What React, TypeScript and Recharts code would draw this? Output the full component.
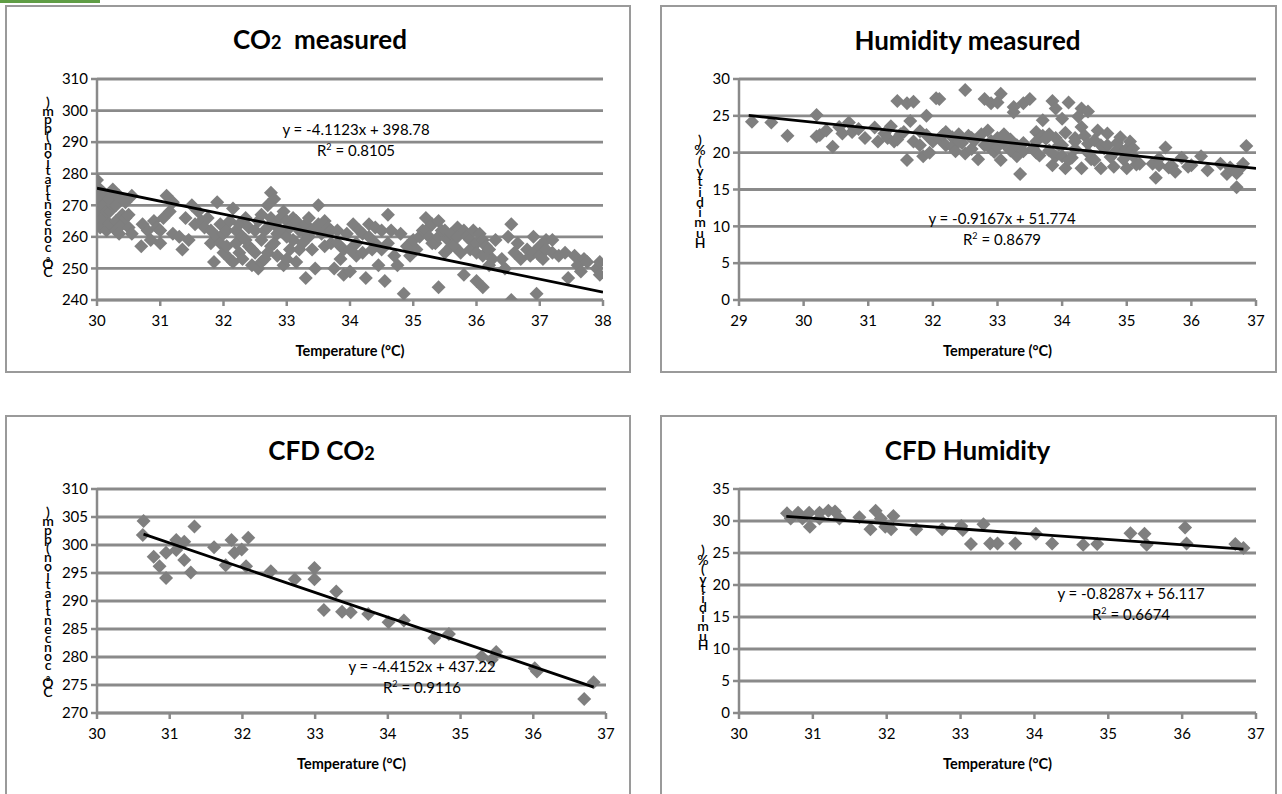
import { CartesianGrid, Scatter, ScatterChart, XAxis, YAxis } from "recharts";

// ---- data ----
const co2MeasuredPoints = [
  [30.0, 278], [30.02, 272], [30.0, 268], [30.0, 264], [30.05, 275], [30.05, 263], [30.1, 270],
  [30.1, 266], [30.1, 274], [30.15, 262], [30.15, 268], [30.2, 272], [30.2, 268], [30.2, 264],
  [30.25, 275], [30.25, 270], [30.3, 265], [30.3, 270], [30.3, 262], [30.35, 273], [30.35, 261],
  [30.4, 267], [30.4, 264], [30.45, 266], [30.45, 271], [30.5, 267], [30.5, 263], [30.55, 273],
  [30.55, 261], [30.7, 257], [30.72, 264], [30.8, 262], [30.85, 259], [30.9, 265], [30.95, 263],
  [31.0, 258], [31.0, 262], [31.05, 266], [31.1, 273], [31.15, 268], [31.2, 271], [31.2, 261],
  [31.3, 260], [31.35, 256], [31.4, 266], [31.45, 259], [31.5, 270], [31.55, 264], [31.6, 268],
  [31.65, 265], [31.7, 263], [31.75, 266], [31.8, 262], [31.8, 258], [31.85, 252], [31.9, 271],
  [31.9, 260], [31.95, 258], [31.95, 264], [32.0, 255], [32.0, 261], [32.05, 262], [32.05, 257],
  [32.1, 265], [32.1, 253], [32.15, 269], [32.15, 252], [32.2, 258], [32.2, 262], [32.25, 264],
  [32.25, 255], [32.3, 260], [32.3, 253], [32.35, 266], [32.35, 259], [32.4, 257], [32.4, 263],
  [32.45, 251], [32.45, 256], [32.5, 262], [32.5, 255], [32.55, 250], [32.55, 265], [32.6, 267],
  [32.6, 259], [32.6, 252], [32.65, 253], [32.65, 262], [32.7, 263], [32.7, 270], [32.7, 255],
  [32.75, 274], [32.75, 257], [32.75, 266], [32.8, 272], [32.8, 264], [32.8, 258], [32.85, 261],
  [32.85, 254], [32.9, 266], [32.9, 262], [32.95, 251], [32.95, 268], [33.0, 260], [33.0, 265],
  [33.0, 253], [33.05, 256], [33.05, 263], [33.1, 266], [33.1, 259], [33.15, 252], [33.15, 265],
  [33.2, 262], [33.2, 256], [33.25, 258], [33.25, 262], [33.3, 247], [33.3, 264], [33.35, 260],
  [33.35, 266], [33.4, 256], [33.4, 262], [33.45, 250], [33.5, 270], [33.5, 264], [33.55, 261],
  [33.6, 257], [33.6, 265], [33.65, 263], [33.7, 258], [33.7, 262], [33.75, 250], [33.8, 258],
  [33.8, 262], [33.85, 253], [33.9, 248], [33.9, 256], [33.95, 261], [34.0, 249], [34.0, 256],
  [34.05, 264], [34.1, 258], [34.1, 254], [34.15, 262], [34.2, 255], [34.2, 261], [34.25, 247],
  [34.3, 260], [34.3, 264], [34.35, 256], [34.4, 263], [34.4, 258], [34.45, 251], [34.5, 262],
  [34.5, 256], [34.55, 246], [34.6, 267], [34.6, 258], [34.65, 262], [34.7, 254], [34.75, 251],
  [34.8, 261], [34.85, 242], [34.9, 257], [34.95, 254], [35.0, 259], [35.05, 256], [35.1, 260],
  [35.15, 262], [35.2, 266], [35.2, 262], [35.25, 260], [35.3, 264], [35.3, 258], [35.35, 258],
  [35.4, 244], [35.4, 265], [35.4, 260], [35.45, 262], [35.5, 255], [35.5, 262], [35.55, 259],
  [35.6, 261], [35.6, 257], [35.65, 257], [35.7, 263], [35.7, 260], [35.75, 255], [35.8, 248],
  [35.8, 262], [35.85, 260], [35.9, 256], [35.9, 259], [35.95, 262], [36.0, 246], [36.0, 258],
  [36.0, 255], [36.05, 261], [36.1, 244], [36.1, 254], [36.1, 259], [36.15, 257], [36.2, 251],
  [36.2, 256], [36.25, 253], [36.3, 259], [36.4, 253], [36.45, 250], [36.5, 260], [36.55, 264],
  [36.55, 240], [36.6, 255], [36.65, 258], [36.7, 253], [36.8, 256], [36.85, 254], [36.9, 260],
  [36.9, 255], [36.95, 242], [37.0, 257], [37.0, 254], [37.05, 253], [37.1, 256], [37.1, 259],
  [37.2, 259], [37.2, 255], [37.3, 254], [37.4, 255], [37.45, 247], [37.55, 254], [37.6, 251],
  [37.65, 249], [37.7, 253], [37.75, 252], [37.9, 250], [37.95, 248], [37.95, 252],
];

const humidityMeasuredPoints = [
  [29.2, 24.2], [29.5, 24.1], [29.75, 22.3], [30.2, 25.1], [30.2, 22.2], [30.25, 22.4], [30.35, 23],
  [30.45, 20.8], [30.55, 23.5], [30.6, 22.6], [30.7, 24.1], [30.75, 22.8], [30.85, 23.2], [30.95, 22.0],
  [31.1, 23.4], [31.15, 21.5], [31.25, 22.6], [31.3, 22.0], [31.35, 23.6], [31.4, 21.5], [31.45, 27.0],
  [31.45, 21.8], [31.5, 22.5], [31.55, 22.8], [31.6, 26.7], [31.6, 19.0], [31.65, 24.3], [31.7, 26.9],
  [31.7, 21.5], [31.8, 22.9], [31.8, 21.0], [31.85, 19.5], [31.9, 25.0], [31.9, 22.4], [31.95, 20.0],
  [32.0, 21.5], [32.05, 27.4], [32.1, 27.3], [32.1, 21.9], [32.15, 22.4], [32.2, 21.0], [32.2, 22.8],
  [32.3, 22.1], [32.3, 20.8], [32.35, 20.2], [32.4, 22.5], [32.4, 21.5], [32.45, 21.3], [32.5, 28.5],
  [32.5, 19.9], [32.55, 22.3], [32.6, 20.5], [32.6, 22.0], [32.65, 21.7], [32.7, 19.1], [32.75, 22.5],
  [32.8, 27.3], [32.8, 21.0], [32.85, 23.0], [32.9, 26.7], [32.9, 21.6], [32.9, 20.5], [32.95, 20.1],
  [33.0, 26.8], [33.0, 22.0], [33.0, 20.8], [33.05, 28.0], [33.05, 19.0], [33.1, 21.2], [33.1, 22.5],
  [33.2, 20.3], [33.2, 21.8], [33.25, 25.5], [33.25, 26.2], [33.3, 19.5], [33.3, 21.0], [33.35, 17.1],
  [33.4, 26.7], [33.4, 21.3], [33.4, 20.2], [33.5, 27.3], [33.55, 20.6], [33.6, 22.8], [33.6, 21.5],
  [33.6, 20.0], [33.65, 19.6], [33.7, 24.4], [33.7, 22.3], [33.75, 21.9], [33.8, 20.3], [33.8, 22.5],
  [33.85, 27.0], [33.85, 18.3], [33.9, 26.0], [33.9, 19.5], [33.9, 22.0], [33.95, 21.0], [34.0, 24.6],
  [34.0, 21.0], [34.0, 19.5], [34.05, 22.7], [34.05, 17.9], [34.1, 26.8], [34.1, 19.0], [34.15, 19.3],
  [34.2, 20.5], [34.2, 22.0], [34.2, 21.5], [34.25, 24.9], [34.3, 26.0], [34.3, 17.9], [34.3, 23.5],
  [34.35, 22.3], [34.4, 25.6], [34.4, 20.0], [34.4, 21.2], [34.45, 19.1], [34.5, 21.7], [34.5, 19.0],
  [34.55, 23.0], [34.6, 17.9], [34.6, 21.0], [34.65, 20.6], [34.7, 22.6], [34.7, 21.0], [34.75, 19.4],
  [34.8, 18.1], [34.8, 20.0], [34.85, 21.3], [34.9, 22.1], [34.9, 20.5], [34.95, 19.1], [35.0, 17.9],
  [35.0, 20.5], [35.05, 21.5], [35.1, 20.6], [35.1, 19.5], [35.15, 18.4], [35.2, 18.5], [35.4, 18.5],
  [35.45, 16.6], [35.5, 19.2], [35.5, 18.3], [35.6, 20.7], [35.65, 18.0], [35.7, 18.2], [35.75, 17.4],
  [35.85, 19.3], [35.95, 18.1], [36.0, 18.3], [36.15, 19.5], [36.25, 17.6], [36.45, 18.5], [36.55, 17.1],
  [36.6, 18.0], [36.7, 15.3], [36.7, 17.2], [36.75, 17.8], [36.8, 18.5], [36.85, 20.9],
];

const cfdCo2Points = [
  [30.64, 304.3], [30.63, 301.8], [30.78, 297.9], [30.86, 296.2], [30.95, 298.6], [30.95, 294.1],
  [31.09, 299.1], [31.09, 300.9], [31.2, 300.6], [31.2, 297.3], [31.29, 295.1], [31.34, 303.3],
  [31.61, 299.6], [31.77, 296.4], [31.85, 300.9], [31.89, 298.6], [31.99, 299.2], [32.05, 296.2],
  [32.08, 301.3], [32.39, 295.3], [32.72, 293.9], [32.99, 295.9], [32.99, 293.9], [33.12, 288.4],
  [33.29, 291.7], [33.37, 288.1], [33.49, 288.0], [33.73, 287.7], [34.01, 286.2], [34.22, 286.5],
  [34.64, 283.4], [34.84, 284.1], [35.29, 280.1], [35.49, 280.9], [35.43, 279.5], [36.02, 278.0],
  [36.05, 277.4], [36.7, 272.5], [36.83, 275.5],
];

const cfdHumidityPoints = [
  [30.65, 31.2], [30.7, 30.4], [30.8, 31.3], [30.86, 30.4], [30.95, 31.3], [30.96, 29.1], [31.09, 30.4],
  [31.09, 31.3], [31.21, 31.6], [31.3, 31.5], [31.36, 30.4], [31.63, 30.6], [31.78, 28.7], [31.85, 31.6],
  [31.92, 30.4], [31.98, 29.1], [32.06, 28.7], [32.09, 30.8], [32.4, 28.7], [32.75, 28.7], [33.01, 29.2],
  [33.03, 28.6], [33.14, 26.4], [33.31, 29.5], [33.4, 26.5], [33.5, 26.5], [33.74, 26.5], [34.02, 28.0],
  [34.24, 26.5], [34.66, 26.3], [34.85, 26.4], [35.3, 28.1], [35.49, 28.0], [35.52, 26.3], [36.04, 29.0],
  [36.06, 26.5], [36.72, 26.4], [36.83, 25.8],
];

const tempTicks30to38 = [30, 31, 32, 33, 34, 35, 36, 37, 38];
const tempTicks29to37 = [29, 30, 31, 32, 33, 34, 35, 36, 37];
const tempTicks30to37 = [30, 31, 32, 33, 34, 35, 36, 37];
const co2MeasuredTicks = [240, 250, 260, 270, 280, 290, 300, 310];
const humidityMeasuredTicks = [0, 5, 10, 15, 20, 25, 30];
const cfdCo2Ticks = [270, 275, 280, 285, 290, 295, 300, 305, 310];
const cfdHumidityTicks = [0, 5, 10, 15, 20, 25, 30, 35];

// linear trendlines (Excel style)
const co2MeasuredFit = { slope: -4.1123, intercept: 398.78, from: 30, to: 38, eq: "y = -4.1123x + 398.78", r2: "0.8105" };
const humidityMeasuredFit = { slope: -0.9167, intercept: 51.774, from: 29.15, to: 37, eq: "y = -0.9167x + 51.774", r2: "0.8679" };
const cfdCo2Fit = { slope: -4.4152, intercept: 437.22, from: 30.64, to: 36.83, eq: "y = -4.4152x + 437.22", r2: "0.9116" };
const cfdHumidityFit = { slope: -0.8287, intercept: 56.117, from: 30.64, to: 36.83, eq: "y = -0.8287x + 56.117", r2: "0.6674" };

const CO2_LABEL = "CO\u2082 concentration (ppm)";
const HUM_LABEL = "Humidity (%)";
const X_LABEL = "Temperature (\u00b0C)";

// ---- drawing ----
const GRID = "#8a8a8a";
const MARK = "#7f7f7f";
const FONT = "Lato, 'Open Sans', sans-serif";
const YW = 40;
const XH = 30;

const toPts = (rows: number[][]) => rows.map(([x, y]) => ({ x, y }));
const trendPts = (f: { slope: number; intercept: number; from: number; to: number }) => [
  { x: f.from, y: f.slope * f.from + f.intercept },
  { x: f.to, y: f.slope * f.to + f.intercept },
];

const Diamond = (p: any) => {
  const { cx, cy } = p;
  if (cx == null || cy == null) return <g />;
  const r = 7;
  return (
    <polygon
      points={`${cx},${cy - r} ${cx + r},${cy} ${cx},${cy + r} ${cx - r},${cy}`}
      fill={MARK}
    />
  );
};

const Nothing = () => <g />;

type Box = { x: number; y: number; w: number; h: number };
type Plot = { x0: number; x1: number; y0: number; y1: number };

function Centered({ x, y, children, style }: { x: number; y: number; children: any; style?: any }) {
  return (
    <div
      style={{
        position: "absolute",
        left: x,
        top: y,
        transform: "translate(-50%, -50%)",
        whiteSpace: "nowrap",
        fontFamily: FONT,
        color: "#000",
        ...style,
      }}
    >
      {children}
    </div>
  );
}

// the y titles come out as upright letters stacked bottom-to-top
function StackedLabel({ text, x, top, step }: { text: string; x: number; top: number; step: number }) {
  const chars = Array.from(text.replace(/ /g, "")).reverse();
  return (
    <div style={{ position: "absolute", left: x - 10, top, width: 20, fontFamily: FONT, fontSize: 14, fontWeight: 600, color: "#000" }}>
      {chars.map((c, i) => (
        <div key={i} style={{ position: "absolute", left: 0, width: 20, top: i * step - 8, textAlign: "center", lineHeight: "16px" }}>
          {c}
        </div>
      ))}
    </div>
  );
}

function Panel(props: {
  box: Box;
  plot: Plot;
  title: any;
  titleY: number;
  points: number[][];
  fit: { slope: number; intercept: number; from: number; to: number; eq: string; r2: string };
  eqPos: [number, number];
  xDomain: [number, number];
  xTicks: number[];
  yDomain: [number, number];
  yTicks: number[];
  yLabel: string;
  yLabelPos: { x: number; top: number; step: number };
}) {
  const { box, plot } = props;
  const margin = {
    top: plot.y0 - box.y,
    left: plot.x0 - box.x - YW,
    right: box.x + box.w - plot.x1,
    bottom: box.y + box.h - plot.y1 - XH,
  };
  const tick = { fontSize: 15, fill: "#000", fontFamily: FONT };
  const axisLine = { stroke: GRID, strokeWidth: 2.5 };
  return (
    <>
      <div
        style={{
          position: "absolute",
          left: box.x,
          top: box.y,
          width: box.w,
          height: box.h,
          boxSizing: "border-box",
          border: "2px solid #9a9a9a",
          background: "#fff",
        }}
      />
      <div style={{ position: "absolute", left: box.x, top: box.y }}>
        <ScatterChart width={box.w} height={box.h} margin={margin}>
          <CartesianGrid vertical={false} stroke={GRID} strokeWidth={2.8} />
          <XAxis
            type="number"
            dataKey="x"
            domain={props.xDomain}
            ticks={props.xTicks}
            allowDataOverflow
            height={XH}
            tick={tick}
            tickSize={6}
            tickMargin={9}
            axisLine={axisLine}
            tickLine={axisLine}
          />
          <YAxis
            type="number"
            dataKey="y"
            domain={props.yDomain}
            ticks={props.yTicks}
            allowDataOverflow
            width={YW}
            tick={tick}
            tickSize={6}
            tickMargin={3}
            axisLine={axisLine}
            tickLine={axisLine}
          />
          <Scatter data={toPts(props.points)} shape={Diamond} isAnimationActive={false} />
          <Scatter
            data={trendPts(props.fit)}
            shape={Nothing}
            line={{ stroke: "#000", strokeWidth: 2.8 }}
            isAnimationActive={false}
          />
        </ScatterChart>
      </div>
      <Centered x={(plot.x0 + plot.x1) / 2 - 30} y={props.titleY} style={{ fontSize: 26, fontWeight: 700 }}>
        {props.title}
      </Centered>
      <Centered x={props.eqPos[0]} y={props.eqPos[1]} style={{ fontSize: 15 }}>
        {props.fit.eq}
      </Centered>
      <Centered x={props.eqPos[0]} y={props.eqPos[1] + 21} style={{ fontSize: 15 }}>
        R<sup style={{ fontSize: 9 }}>2</sup> = {props.fit.r2}
      </Centered>
      <Centered x={(plot.x0 + plot.x1) / 2} y={plot.y1 + 50} style={{ fontSize: 14.5, fontWeight: 700 }}>
        {X_LABEL}
      </Centered>
      <StackedLabel text={props.yLabel} {...props.yLabelPos} />
    </>
  );
}

export default function App() {
  return (
    <div style={{ position: "absolute", left: 0, top: 0, width: 1282, height: 794, overflow: "hidden", background: "#fff" }}>
      <div style={{ position: "absolute", left: 0, top: 0, width: 100, height: 3, background: "#5f9d45" }} />
      <Panel
        box={{ x: 5, y: 5, w: 626, h: 368 }}
        plot={{ x0: 97, x1: 603, y0: 79, y1: 300 }}
        title={<>CO<span style={{ fontSize: 18 }}>2</span>&nbsp; measured</>}
        titleY={39}
        points={co2MeasuredPoints}
        fit={co2MeasuredFit}
        eqPos={[356, 129]}
        xDomain={[30, 38]}
        xTicks={tempTicks30to38}
        yDomain={[240, 310]}
        yTicks={co2MeasuredTicks}
        yLabel={CO2_LABEL}
        yLabelPos={{ x: 48, top: 102, step: 8.5 }}
      />
      <Panel
        box={{ x: 660, y: 5, w: 617, h: 368 }}
        plot={{ x0: 739, x1: 1256, y0: 79, y1: 300 }}
        title="Humidity measured"
        titleY={40}
        points={humidityMeasuredPoints}
        fit={humidityMeasuredFit}
        eqPos={[1002, 218]}
        xDomain={[29, 37]}
        xTicks={tempTicks29to37}
        yDomain={[0, 30]}
        yTicks={humidityMeasuredTicks}
        yLabel={HUM_LABEL}
        yLabelPos={{ x: 700, top: 140, step: 10.3 }}
      />
      <Panel
        box={{ x: 5, y: 415, w: 626, h: 390 }}
        plot={{ x0: 97, x1: 606, y0: 489, y1: 713 }}
        title={<>CFD CO<span style={{ fontSize: 18 }}>2</span></>}
        titleY={450}
        points={cfdCo2Points}
        fit={cfdCo2Fit}
        eqPos={[422, 666]}
        xDomain={[30, 37]}
        xTicks={tempTicks30to37}
        yDomain={[270, 310]}
        yTicks={cfdCo2Ticks}
        yLabel={CO2_LABEL}
        yLabelPos={{ x: 48, top: 512, step: 9 }}
      />
      <Panel
        box={{ x: 660, y: 415, w: 617, h: 390 }}
        plot={{ x0: 739, x1: 1256, y0: 489, y1: 713 }}
        title="CFD Humidity"
        titleY={450}
        points={cfdHumidityPoints}
        fit={cfdHumidityFit}
        eqPos={[1131, 593]}
        xDomain={[30, 37]}
        xTicks={tempTicks30to37}
        yDomain={[0, 35]}
        yTicks={cfdHumidityTicks}
        yLabel={HUM_LABEL}
        yLabelPos={{ x: 703, top: 550, step: 9.5 }}
      />
    </div>
  );
}
